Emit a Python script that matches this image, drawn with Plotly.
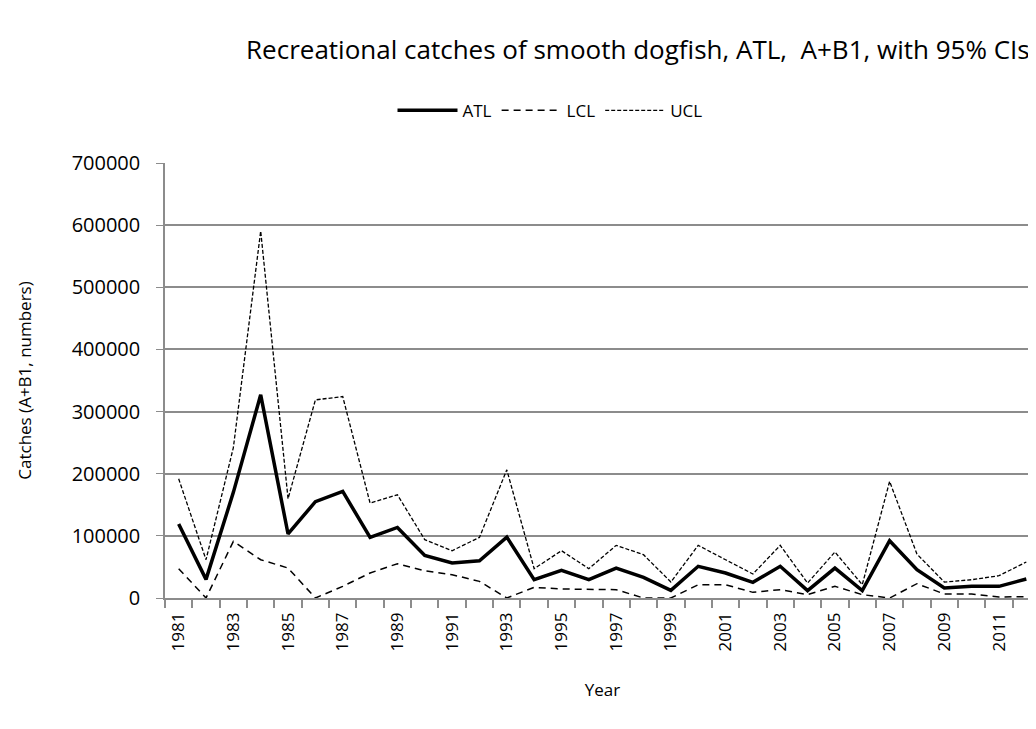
import plotly.graph_objects as go

years = list(range(1981, 2013))

atl = [119000, 30000, 170000, 327000, 103000, 155000, 171500, 97500, 113600, 68600,
       56300, 60000, 98000, 29400, 44500, 29400, 48200, 33200, 12300, 51000,
       40200, 25200, 51000, 11800, 48200, 11800, 92200, 45500, 16100, 18800,
       18800, 30500]

lcl = [47200, 0, 91100, 61600, 48200, 0, 18800, 40200, 55200, 43900,
       37500, 26800, 0, 17100, 14500, 13400, 13400, 0, 0, 21400,
       21400, 9100, 13400, 5400, 18800, 5400, 0, 23000, 6400, 6400,
       1600, 2100]

ucl = [191800, 61600, 242000, 590500, 159700, 318800, 324200, 152700, 166100, 93800,
       76100, 97500, 206300, 47200, 76100, 47200, 84700, 69700, 25700, 84700,
       61600, 38600, 84700, 24100, 74000, 21400, 187600, 70700, 25700, 29400,
       35900, 57900]

font_family = "Open Sans, Noto Sans, sans-serif"
grey = "#8c8c8c"

fig = go.Figure()
fig.add_trace(go.Scatter(x=years, y=atl, mode="lines", name="ATL",
                         line=dict(color="black", width=3.5)))
fig.add_trace(go.Scatter(x=years, y=lcl, mode="lines", name="LCL",
                         line=dict(color="black", width=1.5, dash="7px,5px")))
fig.add_trace(go.Scatter(x=years, y=ucl, mode="lines", name="UCL",
                         line=dict(color="black", width=1.3, dash="4px,2px")))

fig.update_xaxes(
    range=[1980.5, 2012.5],
    tickmode="array",
    tickvals=list(range(1981, 2012, 2)),
    ticktext=[str(y) for y in range(1981, 2012, 2)],
    tickangle=-90,
    ticks="",
    showgrid=False,
    showline=True,
    linecolor=grey,
    linewidth=1.5,
    zeroline=False,
    tickfont=dict(size=17, color="black"),
    ticklabelstandoff=6,
    minor=dict(tickmode="linear", tick0=1980.5, dtick=1, ticks="outside",
               ticklen=8, tickcolor=grey, tickwidth=1.5, showgrid=False),
    title=dict(text="Year", font=dict(size=17, color="black"), standoff=34),
)
fig.update_yaxes(
    range=[0, 700000],
    tickmode="linear",
    tick0=0,
    dtick=100000,
    tickformat="d",
    showgrid=True,
    gridcolor=grey,
    gridwidth=1.5,
    showline=True,
    linecolor=grey,
    linewidth=1.5,
    ticks="outside",
    ticklen=7,
    tickcolor=grey,
    zeroline=False,
    tickfont=dict(size=20, color="black"),
    ticklabelstandoff=12,
    title=dict(text="Catches (A+B1, numbers)", font=dict(size=17, color="black"),
               standoff=36),
)

fig.update_layout(
    width=1036,
    height=729,
    plot_bgcolor="white",
    paper_bgcolor="white",
    font=dict(family=font_family, color="black"),
    margin=dict(l=157, r=4, t=155, b=139),
    title=dict(text="Recreational catches of smooth dogfish, ATL,  A+B1, with 95% CIs",
               x=0.608, xanchor="center", y=0.942, yanchor="middle",
               font=dict(size=26, color="black")),
    legend=dict(orientation="h", x=0.44, xanchor="center", y=1.12,
                yanchor="middle", font=dict(size=17, color="black"),
                itemwidth=60, tracegroupgap=20),
    showlegend=True,
)

fig.write_html("out.html")
